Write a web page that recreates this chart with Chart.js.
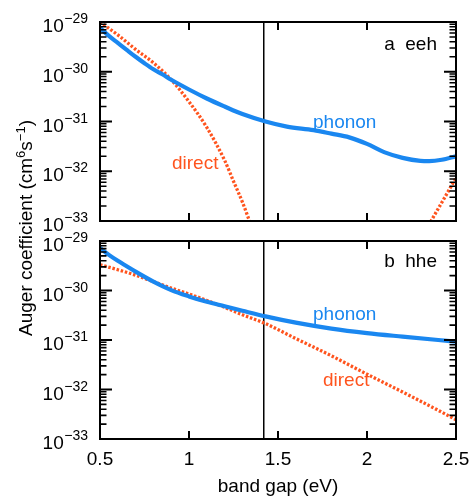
<!DOCTYPE html>
<html><head><meta charset="utf-8">
<script src="https://cdn.jsdelivr.net/npm/chart.js@4.4.1/dist/chart.umd.min.js"></script>
<style>
html,body{margin:0;padding:0;background:#fff;}
#wrap{position:relative;width:471px;height:496px;overflow:hidden;}
canvas{position:absolute;left:0;top:0;}
</style></head><body>
<div id="wrap"><canvas id="ca" width="471" height="496"></canvas><canvas id="cb" width="471" height="496"></canvas></div>
<script>
// ---------- data ----------
const xTicks = [0.5, 1, 1.5, 2, 2.5];
const xTickLabels = ['0.5', '1', '1.5', '2', '2.5'];
const yTickExponents = [-29, -30, -31, -32, -33];
const gapLine = 1.42;

// (a) eeh
const eehPhononE = [0.5, 0.55, 0.6, 0.65, 0.7, 0.75, 0.8, 0.85, 0.9, 1.0, 1.1, 1.2, 1.3, 1.43, 1.55, 1.7, 1.8, 1.9, 2.0, 2.1, 2.2, 2.3, 2.35, 2.42, 2.5];
const eehPhonon  = [7.6e-30, 5.25e-30, 3.8e-30, 2.75e-30, 2.0e-30, 1.48e-30, 1.12e-30, 8.9e-31, 6.9e-31, 4.4e-31, 2.9e-31, 2.0e-31, 1.41e-31, 1.0e-31, 7.9e-32, 6.7e-32, 5.7e-32, 4.8e-32, 3.55e-32, 2.4e-32, 1.86e-32, 1.62e-32, 1.6e-32, 1.7e-32, 2.0e-32];
const eehDirectE = [0.5, 0.6, 0.7, 0.8, 0.9, 1.0, 1.1, 1.2, 1.25, 1.3, 1.35, 1.4, 1.8, 2.3, 2.36, 2.43, 2.5];
const eehDirect  = [1.0e-29, 5.5e-30, 2.82e-30, 1.51e-30, 6.9e-31, 2.5e-31, 7.6e-32, 1.66e-32, 6.3e-33, 2.4e-33, 7.9e-34, 2.5e-34, null, 4.0e-34, 1.0e-33, 2.7e-33, 7.4e-33];

// (b) hhe
const hhePhononE = [0.5, 0.55, 0.6, 0.65, 0.7, 0.8, 0.9, 1.0, 1.1, 1.2, 1.3, 1.43, 1.6, 1.8, 2.0, 2.2, 2.4, 2.5];
const hhePhonon  = [7.24e-30, 5.25e-30, 3.98e-30, 3.09e-30, 2.4e-30, 1.51e-30, 1.02e-30, 7.6e-31, 5.9e-31, 4.8e-31, 3.9e-31, 3.0e-31, 2.24e-31, 1.7e-31, 1.38e-31, 1.17e-31, 1.0e-31, 9.3e-32];
const hheDirectE = [0.5, 0.6, 0.7, 0.8, 0.9, 1.0, 1.1, 1.2, 1.3, 1.43, 1.6, 1.8, 2.0, 2.2, 2.4, 2.5];
const hheDirect  = [3.31e-30, 2.63e-30, 2.04e-30, 1.51e-30, 1.12e-30, 8.5e-31, 6.3e-31, 4.57e-31, 3.24e-31, 2.14e-31, 1.07e-31, 4.8e-32, 2.04e-32, 8.9e-33, 3.8e-33, 2.45e-33];

// ---------- styles ----------
const BLUE = 'rgb(26,135,240)';
const RED = 'rgb(255,84,30)';
const FONT = '"Liberation Sans", Arial, Helvetica, sans-serif';

function pts(xs, ys) { return xs.map((x, i) => ({x: x, y: ys[i]})); }

function axesPlugin(opt) {
  return {
    id: 'axesDraw' + opt.name,
    beforeDatasetsDraw(chart) {
      const ctx = chart.ctx, a = chart.chartArea, xs = chart.scales.x;
      const px = xs.getPixelForValue(gapLine);
      ctx.save();
      ctx.strokeStyle = '#000'; ctx.lineWidth = 1.5;
      ctx.beginPath(); ctx.moveTo(px, a.top); ctx.lineTo(px, a.bottom); ctx.stroke();
      ctx.restore();
    },
    afterDatasetsDraw(chart) {
      const ctx = chart.ctx, a = chart.chartArea, xs = chart.scales.x, ys = chart.scales.y;
      ctx.save();
      ctx.strokeStyle = '#000';
      // y ticks (left & right, inner)
      for (let k = 0; k < yTickExponents.length; k++) {
        const e = yTickExponents[k];
        const py = ys.getPixelForValue(Math.pow(10, e));
        ctx.lineWidth = 2;
        ctx.beginPath();
        ctx.moveTo(a.left, py); ctx.lineTo(a.left + 12, py);
        ctx.moveTo(a.right, py); ctx.lineTo(a.right - 12, py);
        ctx.stroke();
        if (e > -29 - 1e-9 ) continue;
      }
      ctx.lineWidth = 1.6;
      for (let e = -33; e < -29; e++) {
        for (let m = 2; m <= 9; m++) {
          const py = ys.getPixelForValue(m * Math.pow(10, e));
          ctx.beginPath();
          ctx.moveTo(a.left, py); ctx.lineTo(a.left + 6.5, py);
          ctx.moveTo(a.right, py); ctx.lineTo(a.right - 6.5, py);
          ctx.stroke();
        }
      }
      // x ticks (top & bottom, inner)
      ctx.lineWidth = 2;
      for (const v of xTicks) {
        const px = xs.getPixelForValue(v);
        ctx.beginPath();
        ctx.moveTo(px, a.bottom); ctx.lineTo(px, a.bottom - 8);
        ctx.moveTo(px, a.top); ctx.lineTo(px, a.top + 8);
        ctx.stroke();
      }
      // frame
      ctx.lineWidth = 2;
      ctx.strokeRect(a.left, a.top, a.right - a.left, a.bottom - a.top);

      // y tick labels 10^e
      ctx.fillStyle = '#000';
      ctx.textAlign = 'right'; ctx.textBaseline = 'alphabetic';
      for (const e of yTickExponents) {
        const py = ys.getPixelForValue(Math.pow(10, e));
        const expStr = '\u2212' + Math.abs(e);
        ctx.font = '14px ' + FONT;
        const ew = ctx.measureText(expStr).width;
        ctx.fillText(expStr, a.left - 12, py + 1);
        ctx.font = '19px ' + FONT;
        ctx.fillText('10', a.left - 12 - ew - 0.5, py + 10);
      }
      // panel label
      ctx.font = '19px ' + FONT;
      ctx.textAlign = 'right';
      ctx.fillText(opt.panel, a.right - 19, a.top + opt.panelDy);
      // series labels
      ctx.textAlign = 'left';
      ctx.fillStyle = BLUE;
      ctx.fillText('phonon', opt.phonon[0], opt.phonon[1]);
      ctx.fillStyle = RED;
      ctx.fillText('direct', opt.direct[0], opt.direct[1]);

      if (opt.bottom) {
        ctx.fillStyle = '#000';
        ctx.textAlign = 'center';
        xTicks.forEach((v, i) => {
          ctx.fillText(xTickLabels[i], xs.getPixelForValue(v), a.bottom + 26);
        });
        ctx.fillText('band gap (eV)', (a.left + a.right) / 2, 491.5);
        // shared y title (rotated)
        const segs = [
          ['Auger coefficient (cm', 19, 0],
          ['6', 13, -7],
          ['s', 19, 0],
          ['\u22121', 13, -7],
          [')', 19, 0]
        ];
        let total = 0;
        for (const s of segs) { ctx.font = s[1] + 'px ' + FONT; total += ctx.measureText(s[0]).width; }
        ctx.save();
        ctx.translate(31.5, 228);
        ctx.rotate(-Math.PI / 2);
        ctx.textAlign = 'left';
        let cx = -total / 2;
        for (const s of segs) {
          ctx.font = s[1] + 'px ' + FONT;
          ctx.fillText(s[0], cx, s[2]);
          cx += ctx.measureText(s[0]).width;
        }
        ctx.restore();
      }
      ctx.restore();
    }
  };
}

function makeChart(id, phE, ph, diE, di, pad, opt) {
  return new Chart(document.getElementById(id), {
    type: 'line',
    data: {
      datasets: [
        { data: pts(phE, ph), borderColor: BLUE, borderWidth: 4.2, pointRadius: 0,
          cubicInterpolationMode: 'monotone', clip: 0, fill: false },
        { data: pts(diE, di), borderColor: RED, borderWidth: 3.3, borderDash: [2.5, 1.8],
          pointRadius: 0, cubicInterpolationMode: 'monotone', clip: 0, spanGaps: false, fill: false }
      ]
    },
    options: {
      responsive: false, animation: false, events: [],
      layout: { padding: pad },
      plugins: { legend: { display: false }, tooltip: { enabled: false } },
      scales: {
        x: { type: 'linear', min: 0.5, max: 2.5, display: false },
        y: { type: 'logarithmic', min: 1e-33, max: 1e-29, display: false }
      }
    },
    plugins: [axesPlugin(opt)]
  });
}

makeChart('ca', eehPhononE, eehPhonon, eehDirectE, eehDirect,
  { left: 100, right: 15, top: 22, bottom: 496 - 221 },
  { name: 'A', panel: 'a  eeh', panelDy: 28, phonon: [313, 128], direct: [172, 169], bottom: false });
makeChart('cb', hhePhononE, hhePhonon, hheDirectE, hheDirect,
  { left: 100, right: 15, top: 241, bottom: 496 - 439 },
  { name: 'B', panel: 'b  hhe', panelDy: 26, phonon: [313, 320], direct: [323, 386], bottom: true });
</script>
</body></html>
